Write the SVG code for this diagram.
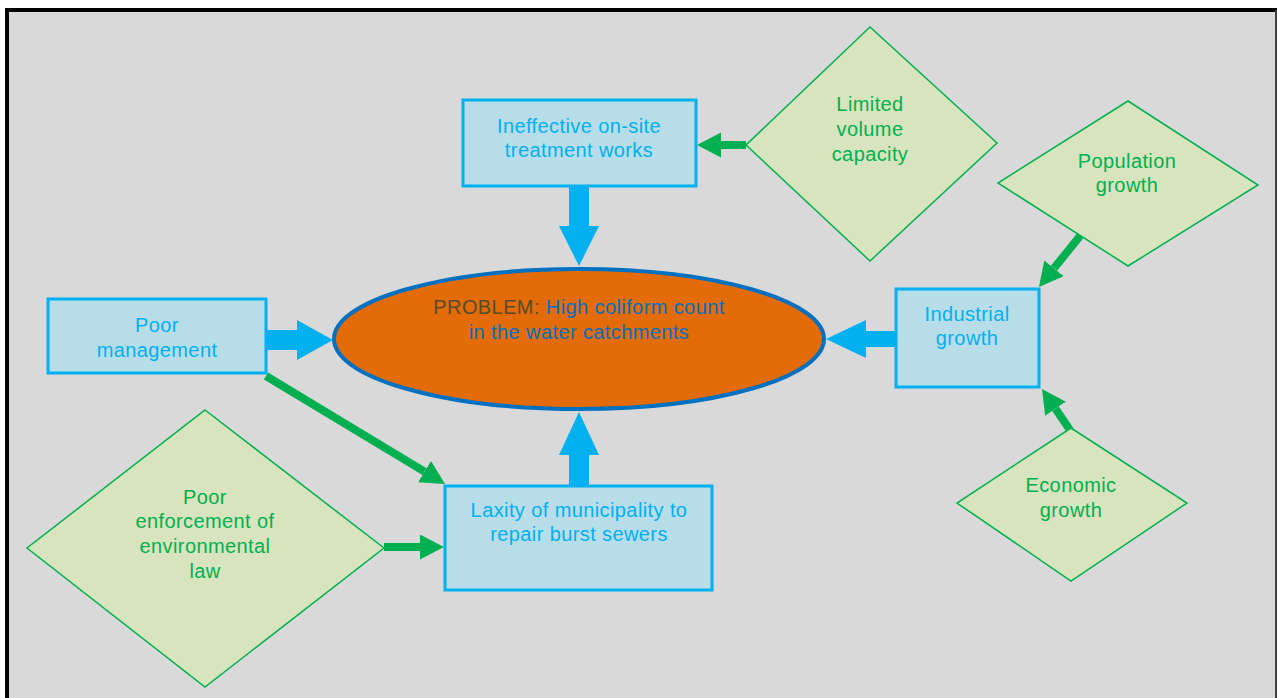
<svg xmlns="http://www.w3.org/2000/svg" width="1277" height="698" viewBox="0 0 1277 698">
<style>
.box{fill:#B7DDE8;stroke:#00B0F0;stroke-width:3}
.dia{fill:#D7E4BD;stroke:#00B050;stroke-width:1.5}
.bt,.dt,.et{font-family:"Liberation Sans",Arial,sans-serif;font-size:20px;letter-spacing:0.4px;text-anchor:middle}
.bt{fill:#00B0F0}
.dt{fill:#00B050}
.et{fill:#0070C0}
.ba{fill:#00B0F0}
.ga{stroke:#00B050;stroke-width:8;fill:none;marker-end:url(#gh)}
</style>
<defs>
<marker id="gh" markerUnits="userSpaceOnUse" markerWidth="26" markerHeight="26" refX="0" refY="12.5" orient="auto">
<path d="M0,0 L24,12.5 L0,25 z" fill="#00B050"/>
</marker>
</defs>
<rect x="0" y="0" width="1277" height="698" fill="#FFFFFF"/>
<rect x="7" y="10" width="1272" height="700" fill="#D9D9D9"/>
<line x1="5" y1="10" x2="1277" y2="10" stroke="#000" stroke-width="4"/>
<line x1="7" y1="8" x2="7" y2="698" stroke="#000" stroke-width="4"/>
<line x1="1276" y1="10" x2="1276" y2="698" stroke="#404040" stroke-width="2"/>

<g id="connectors">
<polygon class="ba" points="569,187 589,187 589,226 599,226 579,266 559,226 569,226"/>
<polygon class="ba" points="267,330 297,330 297,320 333,340 297,360 297,350 267,350"/>
<polygon class="ba" points="569,485 589,485 589,455 599,455 579,412 559,455 569,455"/>
<polygon class="ba" points="895,331 866,331 866,320 826,339 866,358 866,347 895,347"/>
<line class="ga" x1="746" y1="145" x2="721" y2="145"/>
<line class="ga" x1="1080" y1="236" x2="1054" y2="268.3"/>
<line class="ga" x1="1070" y1="430" x2="1055.5" y2="408.8"/>
<line class="ga" x1="266" y1="376" x2="424.5" y2="471.6" stroke-width="9"/>
<line class="ga" x1="384" y1="547" x2="420" y2="547"/>
</g>

<g id="problem">
<ellipse cx="579" cy="339" rx="245" ry="70" fill="#E36C09" stroke="#0070C0" stroke-width="4"/>
<text class="et" x="579" y="314"><tspan fill="#594A2A">PROBLEM: </tspan>High coliform count</text>
<text class="et" x="579" y="339">in the water catchments</text>
</g>

<g id="ineffective">
<rect class="box" x="463" y="100" width="233" height="86"/>
<text class="bt" x="579" y="133">Ineffective on-site</text>
<text class="bt" x="579" y="157">treatment works</text>
</g>

<g id="poor-management">
<rect class="box" x="48" y="299" width="218" height="74"/>
<text class="bt" x="157" y="332">Poor</text>
<text class="bt" x="157" y="357">management</text>
</g>

<g id="laxity">
<rect class="box" x="445" y="486" width="267" height="104"/>
<text class="bt" x="579" y="517">Laxity of municipality to</text>
<text class="bt" x="579" y="541">repair burst sewers</text>
</g>

<g id="industrial">
<rect class="box" x="896" y="289" width="143" height="98"/>
<text class="bt" x="967" y="321">Industrial</text>
<text class="bt" x="967" y="345">growth</text>
</g>

<g id="limited">
<polygon class="dia" points="870,27 997,143 870,261 746,145"/>
<text class="dt" x="870" y="111">Limited</text>
<text class="dt" x="870" y="136">volume</text>
<text class="dt" x="870" y="161">capacity</text>
</g>

<g id="population">
<polygon class="dia" points="1128,101 1258,185 1128,266 998,183"/>
<text class="dt" x="1127" y="168">Population</text>
<text class="dt" x="1127" y="192">growth</text>
</g>

<g id="economic">
<polygon class="dia" points="1071,428 1187,503 1071,581 957,503"/>
<text class="dt" x="1071" y="492">Economic</text>
<text class="dt" x="1071" y="517">growth</text>
</g>

<g id="enforcement">
<polygon class="dia" points="205,410 384,548 205,687 27,548"/>
<text class="dt" x="205" y="504">Poor</text>
<text class="dt" x="205" y="528">enforcement of</text>
<text class="dt" x="205" y="553">environmental</text>
<text class="dt" x="205" y="578">law</text>
</g>
</svg>
